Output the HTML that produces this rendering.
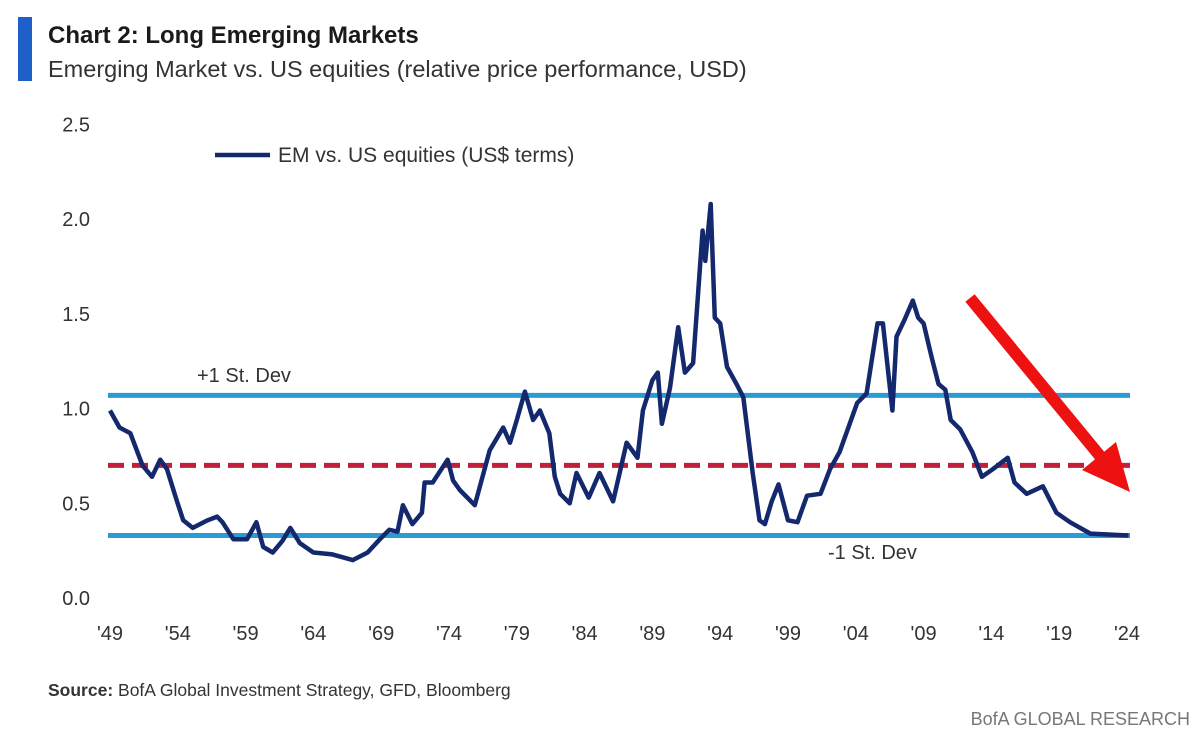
<!DOCTYPE html>
<html><head><meta charset="utf-8"><style>
body{margin:0;background:#fff;font-family:"Liberation Sans",sans-serif;}
svg{display:block}
</style></head><body>
<svg width="1200" height="743" viewBox="0 0 1200 743">
<rect x="18" y="17" width="14" height="64" fill="#1f5fc9"/>
<text x="48" y="43" font-size="24" font-weight="bold" fill="#1a1a1a">Chart 2: Long Emerging Markets</text>
<text x="48" y="77" font-size="23.5" fill="#333">Emerging Market vs. US equities (relative price performance, USD)</text>
<g id="yt"></g>
<g id="xt"></g>
<g id="refs"></g>
<path id="series" fill="none" stroke="#14286e" stroke-width="4.5" stroke-linejoin="round"/>
<line x1="215" y1="155" x2="270" y2="155" stroke="#14286e" stroke-width="4.5"/>
<text x="278" y="162" font-size="21" fill="#333">EM vs. US equities (US$ terms)</text>
<text x="197" y="382" font-size="20" fill="#333">+1 St. Dev</text>
<text x="828" y="559" font-size="20" fill="#333">-1 St. Dev</text>
<g>
<line x1="970" y1="298" x2="1100" y2="456" stroke="#ee1111" stroke-width="12"/>
<polygon points="1130,492 1082,470 1116,442" fill="#ee1111"/>
</g>
<text x="48" y="696" font-size="17.5" fill="#333"><tspan font-weight="bold">Source:</tspan>  BofA Global Investment Strategy, GFD, Bloomberg</text>
<text x="1190" y="725" font-size="18" fill="#777" text-anchor="end">BofA GLOBAL RESEARCH</text>
</svg>
<script>
const years=[1949.0,1949.7,1950.5,1951.4,1952.1,1952.7,1953.2,1953.9,1954.4,1955.1,1956.2,1956.9,1957.3,1958.1,1959.1,1959.8,1960.3,1961.0,1961.7,1962.3,1963.0,1964.0,1965.4,1966.9,1968.0,1968.9,1969.6,1970.2,1970.6,1971.3,1972.0,1972.2,1972.8,1973.9,1974.3,1974.8,1975.9,1977.0,1978.0,1978.5,1979.0,1979.6,1980.2,1980.7,1981.4,1981.8,1982.2,1982.9,1983.4,1984.3,1985.1,1986.1,1987.1,1987.9,1988.3,1989.0,1989.4,1989.7,1990.3,1990.9,1991.4,1992.0,1992.7,1992.9,1993.3,1993.6,1994.0,1994.5,1995.2,1995.7,1996.4,1996.9,1997.3,1997.8,1998.3,1999.0,1999.7,2000.4,2001.4,2002.1,2002.8,2004.1,2004.8,2005.6,2006.0,2006.7,2007.0,2007.6,2008.2,2008.6,2009.0,2009.6,2010.1,2010.6,2011.0,2011.7,2012.6,2013.3,2014.1,2015.2,2015.7,2016.6,2017.8,2018.8,2019.8,2021.3,2024.1];
const values=[0.99,0.90,0.87,0.70,0.64,0.73,0.68,0.52,0.41,0.37,0.41,0.43,0.40,0.31,0.31,0.40,0.27,0.24,0.30,0.37,0.29,0.24,0.23,0.20,0.24,0.31,0.36,0.35,0.49,0.39,0.45,0.61,0.61,0.73,0.62,0.57,0.49,0.78,0.90,0.82,0.94,1.09,0.94,0.99,0.87,0.64,0.55,0.50,0.66,0.53,0.66,0.51,0.82,0.74,0.99,1.15,1.19,0.92,1.11,1.43,1.19,1.24,1.94,1.78,2.08,1.48,1.45,1.22,1.13,1.06,0.66,0.41,0.39,0.51,0.60,0.41,0.40,0.54,0.55,0.68,0.77,1.03,1.08,1.45,1.45,0.99,1.38,1.47,1.57,1.48,1.45,1.27,1.13,1.10,0.94,0.89,0.77,0.64,0.68,0.74,0.61,0.55,0.59,0.45,0.40,0.34,0.33];
const yTicks=[0,0.5,1.0,1.5,2.0,2.5];
const yTickLabels=["0.0","0.5","1.0","1.5","2.0","2.5"];
const xTicks=[1949,1954,1959,1964,1969,1974,1979,1984,1989,1994,1999,2004,2009,2014,2019,2024];
const xTickLabels=["'49","'54","'59","'64","'69","'74","'79","'84","'89","'94","'99","'04","'09","'14","'19","'24"];
const refValues=[1.07,0.70,0.33];
const refNames=["plus-1-sd-line","mean-line","minus-1-sd-line"];
const NS="http://www.w3.org/2000/svg";
function xs(y){return 110+(y-1949)*(1127-110)/75;}
function ys(v){return 598-v*189.4;}
const yt=document.getElementById('yt');
yTicks.forEach((t,i)=>{const e=document.createElementNS(NS,'text');


e.setAttribute('x',90);e.setAttribute('y',ys(t)+7);e.setAttribute('text-anchor','end');e.setAttribute('font-size','20');e.setAttribute('fill','#333');e.textContent=yTickLabels[i];yt.appendChild(e);});
const xt=document.getElementById('xt');
xTicks.forEach((t,i)=>{const e=document.createElementNS(NS,'text');


e.setAttribute('x',xs(t));e.setAttribute('y',640);e.setAttribute('text-anchor','middle');e.setAttribute('font-size','20');e.setAttribute('fill','#333');e.textContent=xTickLabels[i];xt.appendChild(e);});
const refs=document.getElementById('refs');
refValues.forEach((v,i)=>{const l=document.createElementNS(NS,'line');


l.setAttribute('x1',108);l.setAttribute('x2',1130);l.setAttribute('y1',ys(v));l.setAttribute('y2',ys(v));l.setAttribute('stroke-width','5');
if(i==1){l.setAttribute('stroke','#c0203a');l.setAttribute('stroke-dasharray','16 8');}else{l.setAttribute('stroke','#2b9bd3');}
refs.appendChild(l);});
document.getElementById('series').setAttribute('d',years.map((y,i)=>(i?'L':'M')+xs(y).toFixed(1)+' '+ys(values[i]).toFixed(1)).join(' '));
</script>
</body></html>
